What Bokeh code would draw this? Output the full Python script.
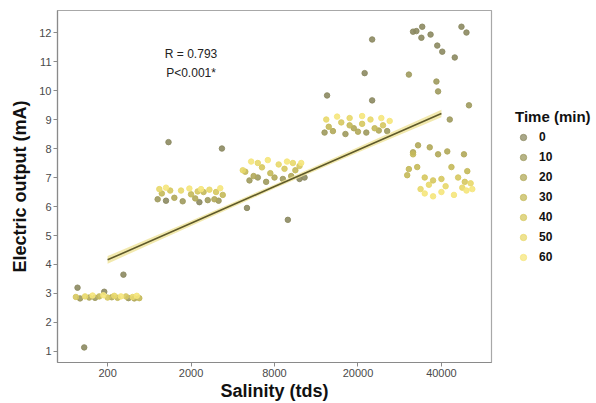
import numpy as np
from bokeh.plotting import figure
from bokeh.layouts import row
from bokeh.models import (Range1d, FixedTicker, Legend, LegendItem, Label)
from bokeh.embed import file_html
from bokeh.resources import INLINE

# ---------------- data ----------------
salinity_labels = ["200", "2000", "8000", "20000", "40000"]
time_levels = [0, 10, 20, 30, 40, 50, 60]
time_colors = ["#8c8a62", "#9e9a5e", "#b1a95a", "#c4b95a", "#d6c860", "#e8d86c", "#f5e57c"]

# salinity 200 : jitter offset within category, current (mA), time (min)
s200_jit = [-0.36, -0.04, 0.19, -0.28, -0.15, 0.25, -0.33, 0.05, -0.22, 0.32, -0.10, 0.12, 0.38,
            -0.38, 0.00, 0.22, -0.27, 0.08, 0.30, -0.18, 0.16, 0.35, -0.05]
s200_cur = [3.20, 3.06, 3.65, 1.14, 2.85, 2.84, 2.83, 2.87, 2.86, 2.83, 2.90, 2.85, 2.84,
            2.88, 2.86, 2.90, 2.90, 2.92, 2.88, 2.93, 2.90, 2.92, 2.94]
s200_time = [0, 0, 0, 0, 10, 10, 10, 20, 20, 20, 30, 30, 30,
             40, 40, 40, 50, 50, 50, 60, 60, 60, 60]

s2000_jit = [-0.27, 0.37, -0.30, 0.10, -0.40, -0.10, 0.20, 0.33, -0.20, 0.05, 0.28,
             -0.35, 0.00, 0.15, 0.38, -0.25, 0.08, 0.30, -0.38, -0.12, 0.22, -0.30, -0.02, 0.12, 0.35]
s2000_cur = [8.22, 8.00, 6.20, 6.15, 6.25, 6.18, 6.22, 6.20, 6.30, 6.28, 6.25,
             6.45, 6.42, 6.50, 6.40, 6.55, 6.52, 6.50, 6.60, 6.55, 6.58, 6.65, 6.62, 6.60, 6.63]
s2000_time = [0, 0, 0, 0, 10, 10, 10, 10, 20, 20, 20,
              30, 30, 30, 30, 40, 40, 40, 50, 50, 50, 60, 60, 60, 60]

s8000_jit = [-0.33, 0.16, 0.30, 0.36, -0.30, -0.10, 0.10, -0.20, -0.25, 0.00, 0.20,
             -0.35, -0.05, 0.25, -0.15, 0.12, 0.30, -0.38, -0.20, 0.05, 0.22, -0.28, -0.08, 0.15, 0.32]
s8000_cur = [5.95, 5.54, 6.95, 7.00, 6.90, 6.85, 6.95, 7.00, 7.05, 7.00, 7.05,
             7.20, 7.15, 7.25, 7.35, 7.30, 7.40, 7.25, 7.50, 7.45, 7.50, 7.55, 7.60, 7.55, 7.50]
s8000_time = [0, 0, 0, 0, 10, 10, 10, 10, 20, 20, 20,
              30, 30, 30, 40, 40, 40, 50, 50, 50, 50, 60, 60, 60, 60]

s20000_jit = [-0.37, 0.08, 0.17, 0.17, -0.40, -0.15, 0.10, 0.35, -0.30, 0.00, 0.25, -0.05,
              -0.35, -0.10, 0.20, -0.20, 0.05, 0.30, -0.38, -0.10, 0.15, -0.25, 0.05, 0.28, 0.38]
s20000_cur = [9.83, 10.60, 11.76, 9.66, 8.55, 8.50, 8.55, 8.60, 8.60, 8.58, 8.62, 8.70,
              8.75, 8.80, 8.70, 8.90, 8.85, 8.80, 9.00, 9.05, 9.00, 9.10, 9.12, 9.05, 8.95]
s20000_time = [0, 0, 0, 0, 10, 10, 10, 10, 20, 20, 20, 20,
               30, 30, 30, 40, 40, 40, 50, 50, 50, 60, 60, 60, 60]

s40000_jit = [-0.34, -0.23, -0.30, -0.24, -0.13, -0.05, 0.01, 0.16, 0.24, 0.30,
              -0.39, -0.06, -0.04, 0.33, 0.10,
              -0.28, -0.14, -0.34, -0.04, 0.07, 0.27,
              -0.39, -0.29, 0.12, 0.31, -0.41, -0.34,
              -0.20, 0.00, 0.20, -0.10, 0.28,
              -0.15, 0.05, 0.25, -0.25, 0.35,
              -0.20, 0.00, 0.15, 0.30, -0.10, 0.37]
s40000_cur = [12.03, 12.20, 12.05, 11.82, 11.93, 11.55, 11.34, 11.14, 12.20, 12.00,
              10.55, 10.31, 9.97, 9.49, 9.00,
              8.11, 8.04, 7.87, 7.80, 7.90, 7.80,
              7.29, 7.36, 7.36, 7.22, 7.08, 7.80,
              7.00, 6.95, 7.00, 6.90, 6.85,
              6.75, 6.70, 6.65, 6.60, 6.80,
              6.45, 6.50, 6.40, 6.55, 6.35, 6.60]
s40000_time = [0, 0, 0, 0, 0, 0, 0, 0, 0, 0,
               10, 10, 10, 10, 10,
               20, 20, 20, 20, 20, 20,
               30, 30, 30, 30, 30, 30,
               40, 40, 40, 40, 40,
               50, 50, 50, 50, 50,
               60, 60, 60, 60, 60, 60]

# fitted regression at category positions 200 .. 40000
fit_cat = ["200", "2000", "8000", "20000", "40000"]
fit_mid = [4.16, 5.42, 6.69, 7.95, 9.21]
fit_half = [0.13, 0.09, 0.07, 0.09, 0.13]

r_text = "R = 0.793"
p_text = "P<0.001*"

# ---------------- assemble ----------------
groups = [(s200_jit, s200_cur, s200_time), (s2000_jit, s2000_cur, s2000_time),
          (s8000_jit, s8000_cur, s8000_time), (s20000_jit, s20000_cur, s20000_time),
          (s40000_jit, s40000_cur, s40000_time)]
xs, ys, ts = [], [], []
for gi, (jit, cur, tm) in enumerate(groups):
    for j, c, t in zip(jit, cur, tm):
        xs.append(gi + 1 + j)
        ys.append(c)
        ts.append(t)
xs = np.array(xs); ys = np.array(ys); ts = np.array(ts)

FONT = "Liberation Sans"

p = figure(width=493, height=403, output_backend="svg", toolbar_location=None,
           x_range=Range1d(0.4, 5.6), y_range=Range1d(0.62, 12.76),
           min_border_left=57, min_border_right=2, min_border_top=10, min_border_bottom=40)
p.background_fill_color = "white"
p.border_fill_color = "white"
p.outline_line_color = "#a8a8a8"
p.outline_line_width = 1.2
p.xgrid.grid_line_color = None
p.ygrid.grid_line_color = None

for t, col in zip(time_levels, time_colors):
    m = ts == t
    p.scatter(xs[m], ys[m], size=5.5, fill_color=col, line_color=col,
              fill_alpha=0.9, line_alpha=0.9)

fx = [salinity_labels.index(c) + 1 for c in fit_cat]
lo = [m - h for m, h in zip(fit_mid, fit_half)]
hi = [m + h for m, h in zip(fit_mid, fit_half)]
p.varea(x=fx, y1=lo, y2=hi, fill_color="#efe39a", fill_alpha=0.8)
p.line(fx, fit_mid, line_color="#5f5a2a", line_width=1.6)

# axes
p.xaxis.ticker = FixedTicker(ticks=list(range(1, len(salinity_labels) + 1)))
p.xaxis.major_label_overrides = {i + 1: s for i, s in enumerate(salinity_labels)}
p.yaxis.ticker = FixedTicker(ticks=list(range(1, 13)))
for ax in (p.xaxis[0], p.yaxis[0]):
    ax.axis_line_color = "#8a8a8a"
    ax.axis_line_width = 1.2
    ax.major_tick_line_color = "#8a8a8a"
    ax.major_tick_out = 4
    ax.major_tick_in = 0
    ax.minor_tick_line_color = None
    ax.major_label_text_font = FONT
    ax.major_label_text_font_size = "11px"
    ax.major_label_text_color = "#4a4a4a"
    ax.axis_label_text_font = FONT
    ax.axis_label_text_font_style = "bold"
    ax.axis_label_text_font_size = "18px"
    ax.axis_label_text_color = "#111111"
p.xaxis.axis_label = "Salinity (tds)"
p.yaxis.axis_label = "Electric output (mA)"
p.xaxis.major_label_standoff = 2
p.xaxis.axis_label_standoff = 1
p.yaxis.major_label_standoff = 2
p.yaxis.axis_label_standoff = 6

# annotation texts
p.add_layout(Label(x=2.0, y=11.27, text=r_text, text_align="center", text_baseline="middle",
                   text_font=FONT, text_font_size="12px", text_color="#222222"))
p.add_layout(Label(x=2.0, y=10.62, text=p_text, text_align="center", text_baseline="middle",
                   text_font=FONT, text_font_size="12px", text_color="#222222"))

# ---------------- legend panel ----------------
# the legend panel shows no data area: its ranges lie far outside the data
lg = figure(width=103, height=403, output_backend="svg", toolbar_location=None,
            x_range=Range1d(100, 101), y_range=Range1d(100, 101),
            x_axis_type=None, y_axis_type=None,
            min_border_left=0, min_border_right=0, min_border_top=0, min_border_bottom=0)
lg.outline_line_color = None
lg.xgrid.grid_line_color = None
lg.ygrid.grid_line_color = None
lg.background_fill_color = "white"
lg.border_fill_color = "white"
items = []
for t, col in zip(time_levels, time_colors):
    m = ts == t
    r = lg.scatter(xs[m], ys[m], size=5.5, fill_color=col, line_color=col,
                   fill_alpha=0.75, line_alpha=0.75)
    items.append(LegendItem(label=str(t), renderers=[r]))

legend = Legend(items=items, location=(20, 93), title="Time (min)",
                title_text_font=FONT, title_text_font_style="bold", title_text_font_size="15px",
                title_text_color="#111111", title_standoff=2,
                label_text_font=FONT, label_text_font_style="bold", label_text_font_size="12px",
                label_text_color="#111111", label_height=20, glyph_height=20, glyph_width=16,
                label_standoff=8, spacing=0, padding=2, margin=0,
                background_fill_alpha=0, border_line_alpha=0)
lg.add_layout(legend)

layout = row(p, lg)
open("out.html", "w").write(file_html(layout, INLINE))
